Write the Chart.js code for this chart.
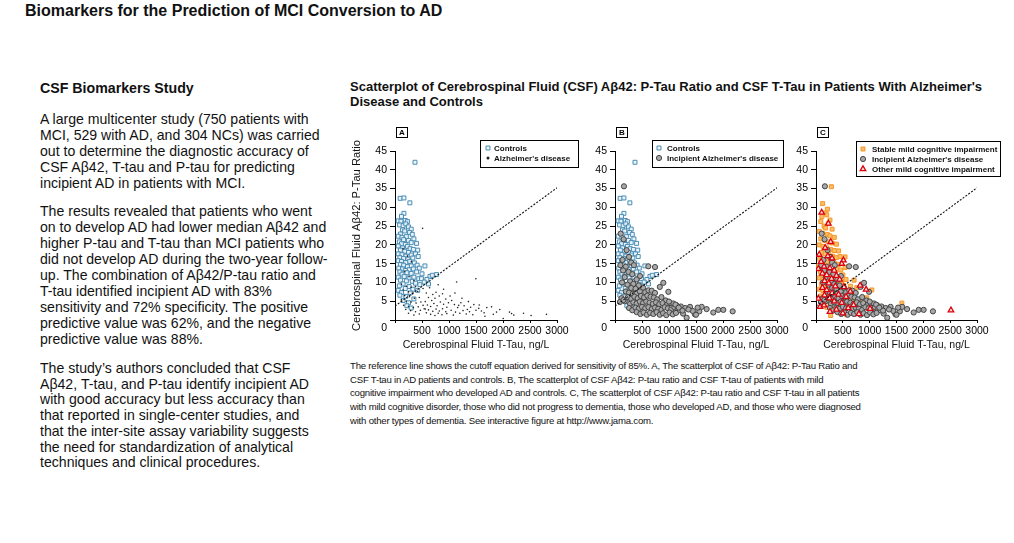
<!DOCTYPE html>
<html>
<head>
<meta charset="utf-8">
<script src="https://cdn.jsdelivr.net/npm/chart.js@4.4.0/dist/chart.umd.min.js"></script>
<style>
  body { margin: 0; background: #fff; font-family: "Liberation Sans", Arial, Helvetica, sans-serif; color: #111; }
  #page { position: relative; width: 1014px; height: 543px; overflow: hidden; }
  .abs { position: absolute; white-space: nowrap; }
  canvas { position: absolute; }
</style>
</head>
<body>
<div id="page">
  <div class="abs" style="left:25px;top:2px;font-weight:bold;font-size:16px;">Biomarkers for the Prediction of MCI Conversion to AD</div>

  <div class="abs" style="left:40px;top:80px;font-weight:bold;font-size:14.2px;line-height:16px;">CSF Biomarkers Study</div>
  <div class="abs" style="left:40px;top:111px;font-size:14.1px;line-height:16px;">
    A large multicenter study (750 patients with<br>
    MCI, 529 with AD, and 304 NCs) was carried<br>
    out to determine the diagnostic accuracy of<br>
    CSF Aβ42, T-tau and P-tau for predicting<br>
    incipient AD in patients with MCI.
  </div>
  <div class="abs" style="left:40px;top:203px;font-size:14.1px;line-height:16px;">
    The results revealed that patients who went<br>
    on to develop AD had lower median Aβ42 and<br>
    higher P-tau and T-tau than MCI patients who<br>
    did not develop AD during the two-year follow-<br>
    up. The combination of Aβ42/P-tau ratio and<br>
    T-tau identified incipient AD with 83%<br>
    sensitivity and 72% specificity. The positive<br>
    predictive value was 62%, and the negative<br>
    predictive value was 88%.
  </div>
  <div class="abs" style="left:40px;top:361px;font-size:14.1px;line-height:15.7px;">
    The study’s authors concluded that CSF<br>
    Aβ42, T-tau, and P-tau identify incipient AD<br>
    with good accuracy but less accuracy than<br>
    that reported in single-center studies, and<br>
    that the inter-site assay variability suggests<br>
    the need for standardization of analytical<br>
    techniques and clinical procedures.
  </div>

  <div class="abs" style="left:350px;top:79px;font-weight:bold;font-size:13px;line-height:15px;">
    Scatterplot of Cerebrospinal Fluid (CSF) Aβ42: P-Tau Ratio and CSF T-Tau in Patients With Alzheimer's<br>
    Disease and Controls
  </div>

  <canvas id="chartA" width="240" height="243" style="left:340px;top:115px;"></canvas>
  <canvas id="chartB" width="220" height="243" style="left:580px;top:115px;"></canvas>
  <canvas id="chartC" width="229" height="243" style="left:785px;top:115px;"></canvas>

  <div class="abs" style="left:350px;top:359px;font-size:9.6px;letter-spacing:-0.22px;line-height:13.7px;color:#111;">
    The reference line shows the cutoff equation derived for sensitivity of 85%. A, The scatterplot of CSF of Aβ42: P-Tau Ratio and<br>
    CSF T-tau in AD patients and controls. B, The scatterplot of CSF Aβ42: P-tau ratio and CSF T-tau of patients with mild<br>
    cognitive impairment who developed AD and controls. C, The scatterplot of CSF Aβ42: P-tau ratio and CSF T-tau in all patients<br>
    with mild cognitive disorder, those who did not progress to dementia, those who developed AD, and those who were diagnosed<br>
    with other types of dementia. See interactive figure at http://www.jama.com.
  </div>
</div>

<script>
// T-tau (ng/L), Abeta42 : P-tau ratio
const controls = [
  [370,42],[95,32.4],[165,32.5],[275,31.2],[165,28.4],[120,27.6],[60,26.4],[110,26.3],[190,26.5],[230,26.2],
  [85,25.3],[150,25.1],[200,25.6],[250,24.8],[300,24.2],[140,24],[180,23.7],[270,23.3],[320,22.8],[100,22.9],
  [60,22.3],[130,22],[210,22.2],[350,21.6],[160,21.4],[250,21.2],[80,20.8],[300,20.6],[120,20.3],[190,20.1],
  [400,20.4],[60,19.7],[230,19.6],[140,19.2],[280,19],[340,18.8],[100,18.6],[180,18.3],[420,18.6],[250,18],
  [60,17.6],[130,17.4],[300,17.3],[380,17.6],[200,17],[90,16.6],[160,16.4],[240,16.2],[330,16.5],[430,16.9],
  [60,15.8],[120,15.6],[270,15.6],[200,15.3],[360,15.2],[100,14.8],[160,14.6],[300,14.4],[230,14.2],[410,14.6],
  [554,14.4],[70,13.8],[140,13.6],[260,13.4],[340,13.6],[190,13.2],[450,13.8],[90,12.8],[220,12.6],[300,12.4],
  [400,12.8],[130,12.2],[500,12.3],[647,11.6],[690,11.9],[770,12.1],[60,11.4],[170,11.6],[260,11.2],[350,11.4],
  [440,11],[490,11],[590,10.8],[100,10.6],[210,10.4],[320,10.3],[540,10.1],[150,9.6],[380,9.8],[460,9.4],
  [620,9.6],[80,9.1],[260,8.9],[190,8.4],[330,8.2],[420,7.9],[60,7.9],[120,7.3],[280,7.2],[90,6.6],
  [200,6.3],[350,5.6],[150,5.2],[250,4.6],[220,3.8],[300,3.2]
];

const alzheimers = [
  [511,24.4],[150,19],[230,17],[300,15.5],[180,13],[260,11.5],[350,10.5],[120,9.5],[210,9],[300,8.7],
  [380,8.9],[150,8],[250,7.5],[330,7],[420,7.6],[180,6.5],[270,6.2],[360,5.8],[450,6],[120,5.4],
  [210,5],[300,4.8],[390,4.5],[480,4.8],[160,3.9],[250,3.6],[340,3.3],[430,3.5],[520,3.9],[200,2.8],
  [290,2.5],[380,2.2],[470,2.6],[560,2.9],[250,1.8],[350,1.3],[450,1.6],[520,8.4],[580,7.2],[640,8.6],
  [700,6.8],[760,7.4],[620,6],[680,5.2],[740,5.8],[820,6.4],[880,7],[940,5.6],[560,4.9],[600,4],
  [660,3.6],[720,4.4],[780,3.8],[840,4.8],[900,4.2],[960,3.4],[540,3],[620,2.7],[700,2.3],[760,2.9],
  [820,2.4],[880,3],[940,2.2],[580,1.9],[660,1.5],[740,1.2],[800,1.8],[870,1.4],[960,1.7],[990,4.6],
  [1020,6.4],[900,8.2],[800,9.4],[1050,5.2],[1100,4.1],[1160,3.3],[1220,4.6],[1280,3.8],[1340,2.8],[1400,3.4],
  [1460,4.1],[1040,2.6],[1120,2.1],[1200,1.8],[1260,2.5],[1320,1.6],[1380,2.2],[1440,1.4],[1500,2.6],[1080,1.3],
  [1180,3.9],[1141,10.1],[1498,11],[1240,5.8],[1360,4.9],[1110,7.2],[1550,3.1],[1600,2.4],[1650,1.9],[1700,3.3],
  [1665,1],[1788,3.5],[1880,2.1],[1820,1.5],[1940,2.8],[2004,0.4],[1560,4],[2120,2.1],[2159,1.7],[2200,1.3],
  [2380,1.8],[2805,1.5],[2520,1.2]
];

const incipientAD = [
  [166,35.6],[105,23],[160,21.5],[215,18.6],[260,16.8],[140,16],[300,15.3],[100,14.6],[200,14.2],[350,14.6],
  [150,13.2],[250,12.8],[617,14.3],[741,14.1],[463,11.7],[320,12.2],[180,11.4],[400,10.8],[280,10.3],[130,10],
  [230,9.4],[340,9.6],[895,9.9],[988,7.5],[440,9.2],[520,8.6],[300,8.5],[380,8.3],[200,7.6],[260,7.3],
  [330,7],[400,7.1],[460,7.6],[560,7.4],[620,7.9],[680,7.8],[740,7.2],[830,8.8],[120,5.8],[180,5],
  [240,6.1],[300,5.6],[360,6.2],[420,5.8],[480,6.4],[540,6],[600,6.5],[660,6.2],[720,6],[780,5.5],
  [860,6.1],[940,5.2],[280,4.3],[340,4.7],[400,4.4],[460,4.9],[520,4.5],[580,4.9],[640,4.6],[700,4.3],
  [760,4.7],[820,4.2],[880,4.5],[960,4],[1020,4.5],[1080,4.4],[1140,3.9],[260,3.2],[320,2.6],[380,3.3],
  [440,3],[500,3.5],[560,3.1],[620,3.4],[680,2.9],[740,3.3],[800,3],[860,2.7],[920,3.4],[980,3.1],
  [1040,2.8],[1100,3.4],[1160,2.9],[1220,3.6],[400,2.1],[470,1.6],[530,2],[590,1.4],[650,1.9],[710,1.6],
  [770,2.1],[830,1.4],[890,1.8],[950,1.3],[1010,2],[1070,1.5],[1130,1.9],[1204,2.6],[1260,1.7],[1327,0.6],
  [1389,3.5],[1300,3.2],[1480,1.5],[1440,2.4],[1562,2.3],[1605,3.5],[1530,3.3],[1697,2.9],[1820,2],[1914,2.7],
  [2006,2.7],[2179,2.3],[1000,4.9],[1120,4.1],[1180,3.3],[1250,2.5],[1360,2.8],[1500,1.4],[92,4.8],[154,5.3]
];

const stableMCI = [
  [286,35.5],[124,31],[212,29.5],[170,28.5],[200,28],[110,27.5],[260,26.6],[230,25.7],[90,26.2],[150,25],
  [180,24.5],[300,24.2],[60,23.6],[120,23.1],[210,22.8],[260,22.4],[340,22],[90,21.6],[160,21.2],[230,20.8],
  [300,20.5],[380,20.2],[60,20],[130,19.6],[200,19.2],[270,18.8],[340,18.5],[420,18.4],[100,18],[170,17.6],
  [240,17.4],[310,17],[380,16.6],[450,16.9],[541,16.8],[70,16.2],[140,15.9],[210,15.5],[280,15.4],[350,15],
  [420,14.8],[50,14.4],[110,14],[180,13.8],[250,13.5],[320,13.2],[390,13.6],[460,13.3],[541,14],[600,14.2],
  [80,12.8],[150,12.4],[220,12.2],[290,11.8],[360,12],[430,11.6],[500,12],[60,11.2],[130,10.9],[200,10.5],
  [270,10.2],[340,10.6],[410,10],[480,10.4],[560,10.8],[710,10.6],[100,9.6],[170,9.2],[240,9],[310,8.8],
  [380,9.4],[450,8.6],[520,9.2],[640,9],[60,8.2],[130,7.8],[200,7.5],[270,7.2],[340,7.6],[410,7],
  [480,7.4],[560,7.8],[760,8.6],[1040,8],[946,5.9],[90,6.4],[160,6],[230,5.6],[300,6.2],[380,5.4],
  [450,5.8],[620,5.6],[700,4.8],[120,4.6],[260,4.2],[400,4],[540,4.4],[860,4.6],[1600,4.5],[200,3.4],
  [340,3],[480,3.2],[650,3.6],[274,1.2],[573,1.4],[420,2.2],[760,2.6],[960,3.2],[1100,3.8],[680,1.8]
];

const otherMCI = [
  [106,28.6],[230,25.7],[274,20.8],[170,19.2],[60,17.4],[220,17],[300,16.4],[95,15.5],[510,15.9],[480,15],
  [150,14.2],[260,13.8],[43,13.6],[340,13.2],[120,12.4],[200,12],[380,11.8],[290,11],[160,10.4],[440,10.8],
  [240,9.8],[822,9.2],[934,8.1],[360,9],[120,8.6],[520,8.8],[200,8],[640,7.6],[300,7.2],[420,6.8],
  [160,6.6],[560,6.2],[43,5.7],[250,5.8],[340,5],[75,3.5],[480,4.6],[700,4],[1008,3],[2515,2.6],
  [600,3.2],[380,2.8],[260,2.2],[500,1.8],[800,1.6],[150,3.9]
];

// cutoff line for 85% sensitivity
const refLine = [[0,3.7],[3000,35.2]];

const FONT = '"Liberation Sans", Arial, Helvetica, sans-serif';
const pts = arr => arr.map(p => ({ x: p[0], y: p[1] }));

function refDataset() {
  return {
    type: 'line', label: 'ref', data: pts(refLine), order: 0,
    borderColor: '#111', borderWidth: 1.1, borderDash: [2, 1.5],
    pointRadius: 0, fill: false
  };
}

const styles = {
  controls: { label: 'Controls', pointStyle: 'rect', pointRadius: 2.8, borderWidth: 1,
              borderColor: '#4a8db5', backgroundColor: 'rgba(235,244,250,0.9)' },
  alzheimers: { label: "Alzheimer's disease", pointStyle: 'circle', pointRadius: 0.8, borderWidth: 0,
              borderColor: '#222', backgroundColor: '#222' },
  incipient: { label: "Incipient Alzheimer's disease", pointStyle: 'circle', pointRadius: 2.6, borderWidth: 1,
              borderColor: '#444', backgroundColor: '#a8a8a8' },
  stable: { label: 'Stable mild cognitive impairment', pointStyle: 'rect', pointRadius: 2.8, borderWidth: 1,
              borderColor: '#f5952a', backgroundColor: '#fbbf66' },
  other: { label: 'Other mild cognitive impairment', pointStyle: 'triangle', pointRadius: 3.2, borderWidth: 1.3,
              borderColor: '#d9000f', backgroundColor: '#ffe0d4' }
};

function series(style, data, order) {
  return Object.assign({ type: 'scatter', data: pts(data), order: order }, style);
}

function makeScales(yWidth, xHeight, showYTitle) {
  return {
    x: {
      type: 'linear', min: 0, max: 3000,
      afterFit: s => { s.height = xHeight; },
      border: { color: '#000', width: 1 },
      grid: { drawOnChartArea: false, drawTicks: true, tickLength: 3, color: '#000' },
      ticks: { stepSize: 500, padding: 2, color: '#000', maxRotation: 0, autoSkip: false,
               font: { family: FONT, size: 10.5 },
               callback: v => v === 0 ? '' : v },
      title: { display: true, text: 'Cerebrospinal Fluid T-Tau, ng/L', color: '#111',
               padding: 0, font: { family: FONT, size: 10.5 } }
    },
    y: {
      type: 'linear', min: 0, max: 45,
      afterFit: s => { s.width = yWidth; },
      border: { color: '#000', width: 1 },
      grid: { drawOnChartArea: false, drawTicks: true, tickLength: 5, color: '#000' },
      ticks: { stepSize: 5, padding: 3, color: '#000', font: { family: FONT, size: 10.5 },
               callback: v => v === 0 ? '' : v },
      title: { display: showYTitle, text: 'Cerebrospinal Fluid Aβ42: P-Tau Ratio', color: '#111',
               padding: 0, font: { family: FONT, size: 11.2 } }
    }
  };
}

// panel letter, origin "0" and boxed legend
const panelDecor = {
  id: 'panelDecor',
  afterDraw(chart, args, opts) {
    const { ctx, chartArea } = chart;
    ctx.save();
    ctx.strokeStyle = '#000';
    ctx.lineWidth = 1;
    const bx = Math.round(chartArea.left) + 1, by = Math.round(chartArea.top) - 24;
    ctx.strokeRect(bx + 0.5, by + 0.5, 11, 10);
    ctx.fillStyle = '#000';
    ctx.font = 'bold 8px ' + FONT;
    ctx.textAlign = 'center';
    ctx.textBaseline = 'middle';
    ctx.fillText(opts.letter, bx + 6, by + 6);

    ctx.font = '10.5px ' + FONT;
    ctx.fillStyle = '#000';
    ctx.textAlign = 'right';
    ctx.fillText('0', chartArea.left - 8, chartArea.bottom + 8);

    const lg = opts.legend;
    ctx.fillStyle = '#fff';
    ctx.fillRect(lg.x, lg.y, lg.w, lg.h);
    ctx.strokeStyle = '#000';
    ctx.strokeRect(lg.x + 0.5, lg.y + 0.5, lg.w, lg.h);
    ctx.font = 'bold 8px ' + FONT;
    ctx.textAlign = 'left';
    lg.items.forEach((idx, i) => {
      const ds = chart.data.datasets[idx];
      const cy = lg.y + 8 + i * 10;
      ctx.fillStyle = ds.backgroundColor;
      ctx.strokeStyle = ds.borderColor;
      ctx.lineWidth = ds.borderWidth;
      Chart.helpers.drawPoint(ctx, { pointStyle: ds.pointStyle, radius: Math.max(ds.pointRadius, 1.5),
                                     borderWidth: ds.borderWidth, rotation: 0 }, lg.mx, cy);
      ctx.fillStyle = '#111';
      ctx.fillText(ds.label, lg.tx, cy + 0.5);
    });
    ctx.restore();
  }
};

function buildChart(id, datasets, scales, pad, decor) {
  return new Chart(document.getElementById(id), {
    data: { datasets: datasets },
    options: {
      responsive: false,
      animation: false,
      layout: { padding: pad },
      scales: scales,
      plugins: { legend: { display: false }, tooltip: { enabled: false }, panelDecor: decor }
    },
    plugins: [panelDecor]
  });
}

buildChart('chartA',
  [refDataset(), series(styles.controls, controls, 2), series(styles.alzheimers, alzheimers, 1)],
  makeScales(45, 31, true),
  { left: 10, top: 36, right: 23, bottom: 7 },
  { letter: 'A', legend: { x: 140, y: 25, w: 98, h: 27, mx: 148, tx: 154, items: [1, 2] } });

buildChart('chartB',
  [refDataset(), series(styles.controls, controls, 2), series(styles.incipient, incipientAD, 1)],
  makeScales(35, 31, false),
  { left: 0, top: 36, right: 23, bottom: 7 },
  { letter: 'B', legend: { x: 72, y: 25, w: 131, h: 27, mx: 79, tx: 87, items: [1, 2] } });

buildChart('chartC',
  [refDataset(), series(styles.stable, stableMCI, 3), series(styles.incipient, incipientAD, 2),
   series(styles.other, otherMCI, 1)],
  makeScales(31, 31, false),
  { left: 0, top: 36, right: 37, bottom: 7 },
  { letter: 'C', legend: { x: 71, y: 26, w: 144, h: 35, mx: 78, tx: 87, items: [1, 2, 3] } });
</script>
</body>
</html>
